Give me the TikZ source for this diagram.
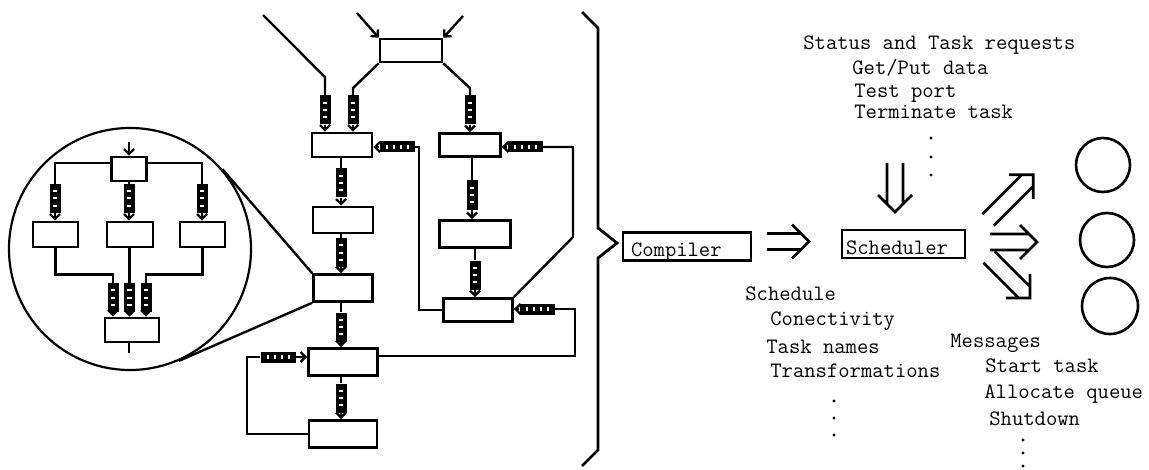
\documentclass[tikz,border=0pt]{standalone}
\usetikzlibrary{arrows.meta, calc}

\tikzset{
  blk/.style={draw, line width=1.3pt, inner sep=0pt},
  link/.style={line width=1.2pt},
  into/.style={line width=1.2pt, -{Straight Barb[length=2.5pt,width=5pt]}},
  vq/.style={fill=black, minimum width=5.5pt, minimum height=14.5pt, inner sep=0pt,
    path picture={\foreach \k in {-3.6,0,3.6}
      \fill[white] ([xshift=-1.2pt,yshift={\k*1pt-0.5pt}]path picture bounding box.center) rectangle ++(2.4pt,1pt);}},
  hq/.style={fill=black, minimum width=17.5pt, minimum height=5.5pt, inner sep=0pt,
    path picture={\foreach \k in {-5.25,-1.75,1.75,5.25}
      \fill[white] ([xshift={\k*1pt-0.5pt},yshift=-1.2pt]path picture bounding box.center) rectangle ++(1pt,2.4pt);}},
  prog/.style={draw, line width=1.4pt, font=\ttfamily\fontsize{11}{12}\selectfont,
    text height=10pt, text depth=0pt, inner ysep=2pt, align=left},
  txt/.style={font=\ttfamily\fontsize{11}{12}\selectfont, anchor=base west, inner sep=0pt},
  proc/.style={draw, circle, line width=1.3pt, inner sep=0pt},
  pics/dbl/.style={code={
    \draw[line width=1.3pt] (0,8) -- (#1-8,8) (0,-8) -- (#1-8,-8) (#1-17,17) -- (#1,0) -- (#1-17,-17);}}
}

\begin{document}
\begin{tikzpicture}[x=0.5pt, y=-0.5pt]
  \useasboundingbox (0,0) rectangle (1149,470);

  % task graph boxes
  \node[blk, minimum width=31pt, minimum height=11.5pt] (M) at (411,50.5) {};
  \node[blk, minimum width=30pt, minimum height=12pt] (A) at (342,145) {};
  \node[blk, minimum width=30.5pt, minimum height=11.5pt] (B) at (470,145) {};
  \node[blk, minimum width=35.5pt, minimum height=13.5pt] (C) at (475,234) {};
  \node[blk, minimum width=34.5pt, minimum height=11.5pt] (D) at (478,310) {};
  \node[blk, minimum width=30pt, minimum height=13pt] (E) at (343,220) {};
  \node[blk, minimum width=29.5pt, minimum height=13.5pt] (G) at (343,288) {};
  \node[blk, minimum width=34.5pt, minimum height=13.5pt] (F) at (343,362) {};
  \node[blk, minimum width=34pt, minimum height=13.5pt] (H) at (343,434) {};

  % queues
  \node[vq] (qA1) at (325,110) {};
  \node[vq] (qA2) at (353,110) {};
  \node[vq] (qB) at (470,110) {};
  \node[vq] (qAE) at (341,183) {};
  \node[vq] (qEG) at (341,252.5) {};
  \node[vq] (qGF) at (341,327) {};
  \node[vq] (qFH) at (341,398) {};
  \node[vq] (qBC) at (472,195) {};
  \node[vq] (qCD) at (475,275) {};
  \node[hq] (qAr) at (397,147) {};
  \node[hq] (qBr) at (525,147) {};
  \node[hq] (qDr) at (537,309) {};
  \node[hq] (qFl) at (278,357) {};

  % inputs
  \coordinate (i1) at (263,15);
  \coordinate (i2) at (357,13);
  \coordinate (i3) at (463,16);
  \draw[link] (i1) -- ([yshift=9pt]qA1.north) -- (qA1.north);
  \draw[into] (i2) -- (M.north west);
  \draw[into] (i3) -- (M.north east);
  \draw[link] (M.south west) -- ([yshift=3.5pt]qA2.north) -- (qA2.north);
  \draw[link] (M.south east) -- ([yshift=3.5pt]qB.north) -- (qB.north);

  \foreach \q/\b in {qA1/A, qA2/A, qB/B, qAE/E, qEG/G, qGF/F, qFH/H, qBC/C, qCD/D}
    \draw[into] (\q.south) -- (\q.south |- \b.north);
  \foreach \b/\q in {A/qAE, E/qEG, G/qGF, F/qFH, B/qBC, C/qCD}
    \draw[link] (\q.north |- \b.south) -- (\q.north);

  \draw[into] (qAr.west) -- (A.east |- qAr.west);
  \draw[into] (qBr.west) -- (B.east |- qBr.west);
  \draw[into] (qDr.west) -- (D.east |- qDr.west);
  \draw[into] (qFl.east) -- (F.west |- qFl.east);

  % feedback lines
  \coordinate (kB) at (573,237);
  \draw[link] (D.west) -- ++(-23,0) |- (qAr.east);
  \draw[link] (D.north east) -- (kB) |- (qBr.east);
  \draw[link] ([yshift=3pt]F.east) -| ([xshift=10pt]qDr.east) -- (qDr.east);
  \draw[link] (H.west) -| ([xshift=-6.5pt]qFl.west) -- (qFl.west);

  % magnified task
  \node[draw, circle, line width=1.1pt, minimum size=121pt, inner sep=0pt] (lens) at (130,249) {};
  \draw[link] (tangent cs:node=lens,point={(G.north west)},solution=1) -- (G.north west);
  \draw[link] (tangent cs:node=lens,point={(G.south west)},solution=2) -- (G.south west);

  \node[blk, minimum width=17.5pt, minimum height=12pt] (T) at (129,169) {};
  \node[blk, minimum width=22.5pt, minimum height=12.5pt] (L) at (55.5,234.5) {};
  \node[blk, minimum width=23pt, minimum height=12.5pt] (Mm) at (130,234.5) {};
  \node[blk, minimum width=22.5pt, minimum height=12.5pt] (R) at (202.5,234.5) {};
  \node[blk, minimum width=27pt, minimum height=12pt] (Bt) at (132,330) {};
  \node[vq] (iq1) at (55,198.5) {};
  \node[vq] (iq2) at (129,198.5) {};
  \node[vq] (iq3) at (202,198.5) {};
  \node[vq] (jq1) at (113,297.5) {};
  \node[vq] (jq2) at (129.5,297.5) {};
  \node[vq] (jq3) at (146,297.5) {};

  \coordinate (iin) at (129,142);
  \coordinate (iout) at (129,353);
  \draw[into] (iin) -- (T.north);
  \draw[link] ([yshift=3pt]T.west) -| (iq1.north);
  \draw[link] (T.south) -- (iq2.north);
  \draw[link] ([yshift=3pt]T.east) -| (iq3.north);
  \foreach \q/\b in {iq1/L, iq2/Mm, iq3/R, jq1/Bt, jq2/Bt, jq3/Bt}
    \draw[into] (\q.south) -- (\q.south |- \b.north);
  \draw[link] (L.south) |- ([yshift=4pt]jq1.north) -- (jq1.north);
  \draw[link] (jq2.north |- Mm.south) -- (jq2.north);
  \draw[link] (R.south) |- ([yshift=4pt]jq3.north) -- (jq3.north);
  \draw[link] (iout |- Bt.south) -- (iout);

  % brace
  \draw[line width=1.4pt] (582,12) -- (598,28) -- (598,228) -- (617,243) -- (598,258) -- (598,450) -- (582,466);

  % compiler and scheduler
  \node[prog, text width=56pt, inner xsep=4pt] (comp) at (687,246.5) {Compiler};
  \node[prog, text width=57.5pt, inner xsep=2pt] (sched) at (903.5,244) {Scheduler};
  \pic at (767,241.5) {dbl=42};
  \pic[rotate=-90] at (895,163) {dbl=49};
  \pic[rotate=45] at (988,220) {dbl=64};
  \pic at (990,242) {dbl=47};
  \pic[rotate=-45] at (989,257) {dbl=58};

  \node[proc, minimum size=27pt] (p1) at (1103,165) {};
  \node[proc, minimum size=27pt] (p2) at (1107,240) {};
  \node[proc, minimum size=28pt] (p3) at (1110,306) {};

  % requests
  \node[txt] (req) at (803,50) {Status and Task requests};
  \node[txt] (req1) at (852,75) {Get/Put data};
  \node[txt] (req2) at (854,98) {Test port};
  \node[txt] (req3) at (854,119) {Terminate task};
  \foreach \y in {138,157,175} \fill (931,\y) circle (1.7);

  % schedule
  \node[txt] (sch) at (745,300) {Schedule};
  \node[txt] (sch1) at (770,325) {Conectivity};
  \node[txt] (sch2) at (766,353) {Task names};
  \node[txt] (sch3) at (770,377) {Transformations};
  \foreach \y in {401,418,435} \fill (834,\y) circle (1.7);

  % messages
  \node[txt] (msg) at (950,347) {Messages};
  \node[txt] (msg1) at (985,372) {Start task};
  \node[txt] (msg2) at (984,398) {Allocate queue};
  \node[txt] (msg3) at (989,425) {Shutdown};
  \foreach \y in {440,453,466} \fill (1023,\y) circle (1.7);
\end{tikzpicture}
\end{document}
